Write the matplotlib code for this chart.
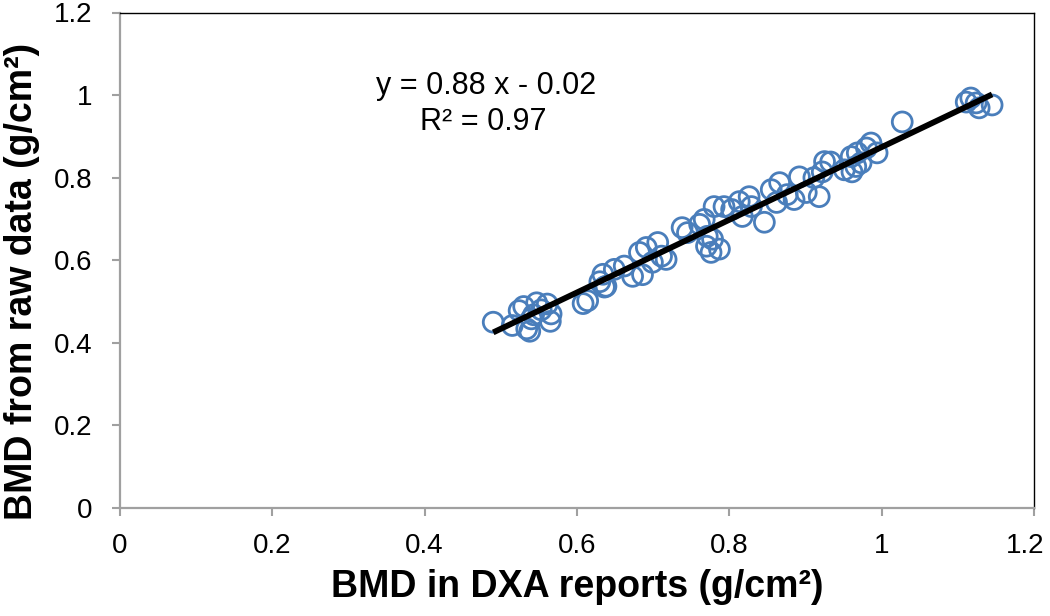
import matplotlib
matplotlib.use("Agg")
import matplotlib.pyplot as plt
import matplotlib.transforms as mtransforms
import numpy as np

plt.rcParams['font.family'] = ['Liberation Sans', 'DejaVu Sans']

# Data
dxa_bmd = [0.490, 0.515, 0.524, 0.530, 0.534, 0.538, 0.543, 0.547, 0.553, 0.561,
           0.566, 0.565, 0.540, 0.608, 0.614, 0.636, 0.630,
           0.634, 0.638, 0.649, 0.662, 0.673, 0.682, 0.686, 0.691, 0.699, 0.706,
           0.711, 0.717, 0.738, 0.745, 0.761, 0.770, 0.776, 0.778,
           0.767, 0.771, 0.787, 0.780, 0.793, 0.803, 0.813, 0.817, 0.826, 0.829,
           0.846, 0.855, 0.862, 0.866, 0.876, 0.885, 0.892, 0.901, 0.911, 0.922,
           1.027, 0.925, 0.933, 0.918, 0.951, 0.960, 0.961, 0.966, 0.968, 0.973,
           0.980, 0.986, 0.994,
           1.111, 1.117, 1.124, 1.128, 1.145]
raw_bmd = [0.450, 0.442, 0.478, 0.488, 0.434, 0.428, 0.468, 0.497, 0.480, 0.494,
           0.470, 0.452, 0.458, 0.495, 0.502, 0.535, 0.548,
           0.566, 0.537, 0.578, 0.586, 0.561, 0.619, 0.565, 0.631, 0.595, 0.643,
           0.610, 0.602, 0.679, 0.667, 0.687, 0.634, 0.619, 0.651,
           0.699, 0.658, 0.627, 0.730, 0.730, 0.723, 0.742, 0.706, 0.754, 0.730,
           0.692, 0.771, 0.740, 0.788, 0.759, 0.747, 0.802, 0.764, 0.800, 0.814,
           0.935, 0.839, 0.838, 0.754, 0.819, 0.851, 0.814, 0.827, 0.860, 0.836,
           0.872, 0.884, 0.860,
           0.983, 0.993, 0.981, 0.969, 0.976]
# trendline as drawn in the reference
trend_slope = 0.88
trend_intercept = -0.006
equation_text = 'y = 0.88 x - 0.02'
r2_text = 'R² = 0.97'
ticks = [0, 0.2, 0.4, 0.6, 0.8, 1, 1.2]
tick_labels = ['0', '0.2', '0.4', '0.6', '0.8', '1', '1.2']

W, H = 1050, 616
fig = plt.figure(figsize=(W / 100, H / 100), dpi=100)
ax = fig.add_axes([120 / W, 1 - 508 / H, 914 / W, 495.5 / H])

ax.scatter(dxa_bmd, raw_bmd, s=205, facecolors='none', edgecolors='#4a7ebb',
           linewidths=2.0, zorder=2)

xs = np.array([min(dxa_bmd), max(dxa_bmd)])
ax.plot(xs, trend_slope * xs + trend_intercept, color='black', linewidth=4.2,
        zorder=3, solid_capstyle='butt')

ax.set_xlim(0, 1.2)
ax.set_ylim(0, 1.2)
ax.set_xticks(ticks)
ax.set_xticklabels(tick_labels)
ax.set_yticks(ticks)
ax.set_yticklabels(tick_labels)
ax.tick_params(axis='both', labelsize=20, color='#a0a0a0', length=5.8, width=1.5,
               direction='out')
ax.tick_params(axis='x', pad=12)
ax.tick_params(axis='y', pad=14)

# keep the last x tick label inside the figure, as the reference does
last = ax.get_xticklabels()[-1]
last.set_transform(last.get_transform() +
                   mtransforms.ScaledTranslation(-9 / 100, 0, fig.dpi_scale_trans))

for side in ['left', 'bottom']:
    ax.spines[side].set_color('#a0a0a0')
    ax.spines[side].set_linewidth(1.6)
for side in ['top', 'right']:
    ax.spines[side].set_color('black')
    ax.spines[side].set_linewidth(1.0)

fig.text(577.5 / W, 1 - 587 / H, 'BMD in DXA reports (g/cm²)', fontsize=27,
         fontweight='bold', ha='center', va='center')
fig.text(22 / W, 1 - 281 / H, 'BMD from raw data (g/cm²)', fontsize=27,
         fontweight='bold', ha='center', va='center', rotation=90)

ax.text(0.481, 1.022, equation_text, fontsize=22, ha='center', va='center')
ax.text(0.477, 0.935, r2_text, fontsize=22, ha='center', va='center')

fig.savefig('out.png', dpi=100)
